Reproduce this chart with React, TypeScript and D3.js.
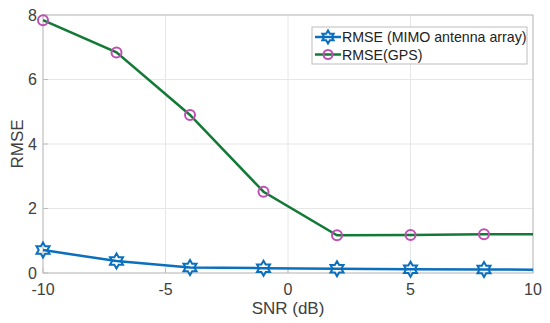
import React, { useEffect, useRef } from 'react';
import * as d3 from 'd3';

// SNR values (dB); last point lies outside the axis and is clipped
const snr = [-10, -7, -4, -1, 2, 5, 8, 11];
const rmseMimo = [0.71, 0.37, 0.17, 0.15, 0.13, 0.12, 0.11, 0.1];
const rmseGps = [7.84, 6.84, 4.9, 2.52, 1.17, 1.18, 1.2, 1.2];
const xTicks = [-10, -5, 0, 5, 10];
const yTicks = [0, 2, 4, 6, 8];
const seriesNames = ['RMSE (MIMO antenna array)', 'RMSE(GPS)'];

function hexagram(r: number) {
  const pts: [number, number][] = [];
  for (let i = 0; i < 12; i++) {
    const a = (Math.PI / 6) * i - Math.PI / 2;
    const rr = i % 2 === 0 ? r : r / Math.sqrt(3);
    pts.push([rr * Math.cos(a), rr * Math.sin(a)]);
  }
  return 'M' + pts.map(p => p.join(',')).join('L') + 'Z';
}

export default function App() {
  const ref = useRef<SVGSVGElement>(null);

  useEffect(() => {
    const svg = d3.select(ref.current);
    svg.selectAll('*').remove();

    const width = 550;
    const height = 323;
    const m = { left: 43, right: 17, top: 15, bottom: 50 };
    const font = '"Liberation Sans", Arial, sans-serif';
    const textColor = '#404040';

    const x = d3.scaleLinear().domain([-10, 10]).range([m.left, width - m.right]);
    const y = d3.scaleLinear().domain([0, 8]).range([height - m.bottom, m.top]);

    svg.append('rect').attr('width', width).attr('height', height).attr('fill', '#fff');

    svg.append('defs').append('clipPath').attr('id', 'plot-clip')
      .append('rect')
      .attr('x', m.left).attr('y', m.top)
      .attr('width', width - m.left - m.right)
      .attr('height', height - m.top - m.bottom);

    // grid
    const grid = svg.append('g');
    grid.selectAll('.gx').data(xTicks).enter().append('line')
      .attr('x1', d => x(d)).attr('x2', d => x(d))
      .attr('y1', m.top).attr('y2', height - m.bottom)
      .attr('stroke', '#e6e6e6').attr('stroke-width', 1);
    grid.selectAll('.gy').data(yTicks).enter().append('line')
      .attr('y1', d => y(d)).attr('y2', d => y(d))
      .attr('x1', m.left).attr('x2', width - m.right)
      .attr('stroke', '#e6e6e6').attr('stroke-width', 1);

    // box
    svg.append('rect')
      .attr('x', m.left).attr('y', m.top)
      .attr('width', width - m.left - m.right)
      .attr('height', height - m.top - m.bottom)
      .attr('fill', 'none').attr('stroke', '#bdbdbd').attr('stroke-width', 1);

    // ticks
    const tickLen = 5;
    svg.selectAll('.tx').data(xTicks).enter().append('line')
      .attr('x1', d => x(d)).attr('x2', d => x(d))
      .attr('y1', height - m.bottom).attr('y2', height - m.bottom - tickLen)
      .attr('stroke', '#bdbdbd');
    svg.selectAll('.ty').data(yTicks).enter().append('line')
      .attr('y1', d => y(d)).attr('y2', d => y(d))
      .attr('x1', m.left).attr('x2', m.left + tickLen)
      .attr('stroke', '#bdbdbd');

    svg.selectAll('.lx').data(xTicks).enter().append('text')
      .attr('x', d => x(d)).attr('y', height - m.bottom + 22)
      .attr('text-anchor', 'middle')
      .attr('font-family', font).attr('font-size', 16).attr('fill', textColor)
      .text(d => String(d));
    svg.selectAll('.ly').data(yTicks).enter().append('text')
      .attr('x', m.left - 6).attr('y', d => y(d) + 5.5)
      .attr('text-anchor', 'end')
      .attr('font-family', font).attr('font-size', 16).attr('fill', textColor)
      .text(d => String(d));

    svg.append('text')
      .attr('x', (m.left + width - m.right) / 2).attr('y', 314)
      .attr('text-anchor', 'middle')
      .attr('font-family', font).attr('font-size', 17).attr('fill', textColor)
      .text('SNR (dB)');
    svg.append('text')
      .attr('transform', `translate(23,${(m.top + height - m.bottom) / 2}) rotate(-90)`)
      .attr('text-anchor', 'middle')
      .attr('font-family', font).attr('font-size', 17).attr('fill', textColor)
      .text('RMSE');

    const blue = '#0a6fbd';
    const green = '#127a36';
    const magenta = '#bf4fb3';

    const plot = svg.append('g').attr('clip-path', 'url(#plot-clip)');
    const line = d3.line<number>().x((_, i) => x(snr[i]));

    plot.append('path')
      .attr('d', line.y(d => y(d))(rmseGps) as string)
      .attr('fill', 'none').attr('stroke', green).attr('stroke-width', 2.5);
    plot.append('path')
      .attr('d', line.y(d => y(d))(rmseMimo) as string)
      .attr('fill', 'none').attr('stroke', blue).attr('stroke-width', 2.5);

    const inRange = (i: number) => snr[i] <= 10;
    const gpsPts = rmseGps.map((v, i) => ({ x: snr[i], v, i })).filter(d => inRange(d.i));
    const mimoPts = rmseMimo.map((v, i) => ({ x: snr[i], v, i })).filter(d => inRange(d.i));

    svg.selectAll('.mg').data(gpsPts).enter().append('circle')
      .attr('cx', d => x(d.x)).attr('cy', d => y(d.v)).attr('r', 5)
      .attr('fill', 'none').attr('stroke', magenta).attr('stroke-width', 2);
    svg.selectAll('.mm').data(mimoPts).enter().append('path')
      .attr('transform', d => `translate(${x(d.x)},${y(d.v)})`)
      .attr('d', hexagram(7.5))
      .attr('fill', 'none').attr('stroke', blue).attr('stroke-width', 2);

    // legend
    const lg = svg.append('g').attr('transform', 'translate(312,27)');
    lg.append('rect').attr('width', 215).attr('height', 37)
      .attr('fill', '#fff').attr('stroke', '#bdbdbd');
    const rows = [
      { name: seriesNames[0], color: blue, marker: 'hex' },
      { name: seriesNames[1], color: green, marker: 'circle' },
    ];
    rows.forEach((r, i) => {
      const cy = 10 + i * 17.5;
      lg.append('line').attr('x1', 3).attr('x2', 29).attr('y1', cy).attr('y2', cy)
        .attr('stroke', r.color).attr('stroke-width', 2.5);
      if (r.marker === 'hex') {
        lg.append('path').attr('transform', `translate(16,${cy})`).attr('d', hexagram(6.5))
          .attr('fill', 'none').attr('stroke', blue).attr('stroke-width', 2);
      } else {
        lg.append('circle').attr('cx', 16).attr('cy', cy).attr('r', 4.5)
          .attr('fill', 'none').attr('stroke', magenta).attr('stroke-width', 2);
      }
      lg.append('text').attr('x', 30).attr('y', cy + 5)
        .attr('font-family', font).attr('font-size', 14.2).attr('fill', '#222')
        .text(r.name);
    });
  }, []);

  return (
    <svg ref={ref} width={550} height={323}
      style={{ position: 'absolute', left: 0, top: 0 }} />
  );
}
